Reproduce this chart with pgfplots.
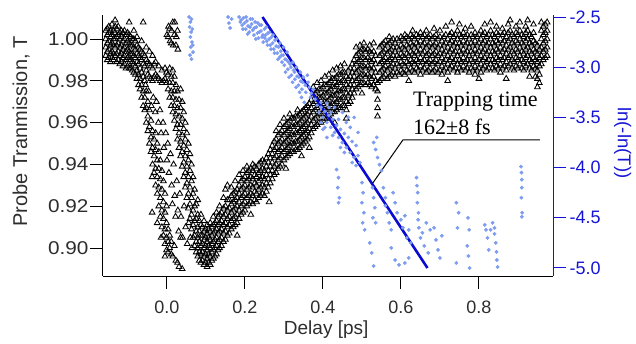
\documentclass[border=0pt]{standalone}
\usepackage{pgfplots}
\usepackage{pgfplotstable}
\pgfplotsset{compat=1.18}
\usepackage{fontspec}
\setmainfont{Liberation Sans}
\newfontfamily\annfont{Liberation Serif}
\newfontfamily\widesans[FakeStretch=1.12]{Liberation Sans}
\definecolor{axblue}{RGB}{20,20,215}
\definecolor{dotblue}{RGB}{125,155,240}
\definecolor{fitblue}{RGB}{10,10,210}
\definecolor{tickgray}{RGB}{45,45,45}

\pgfplotstableread{
x a b c d e f
-0.157 0.992 0.996 1.000 1.004 nan nan
-0.153 0.990 0.994 0.998 1.002 1.005 nan
-0.149 0.991 0.995 0.999 1.003 1.006 nan
-0.145 0.989 0.993 0.997 1.001 1.004 nan
-0.141 0.991 0.994 0.998 1.002 1.007 nan
-0.137 0.990 0.993 0.997 1.000 1.004 nan
-0.133 0.992 0.996 1.000 1.003 1.006 1.009
-0.129 0.989 0.993 0.997 1.001 1.005 nan
-0.125 0.990 0.994 0.998 1.002 1.006 nan
-0.121 0.988 0.992 0.996 1.000 1.003 nan
-0.117 0.989 0.993 0.997 1.001 1.004 nan
-0.113 0.987 0.991 0.995 0.999 1.003 nan
-0.109 0.988 0.992 0.996 1.000 1.004 nan
-0.105 0.986 0.990 0.994 0.998 1.002 nan
-0.101 0.987 0.991 0.995 0.999 1.003 nan
-0.097 0.986 0.990 0.994 0.998 1.002 1.008
-0.093 0.986 0.990 0.993 0.997 1.001 nan
-0.089 0.985 0.989 0.993 0.997 1.000 nan
-0.085 0.984 0.988 0.992 0.996 1.000 1.004
-0.081 0.983 0.987 0.991 0.995 0.999 nan
-0.077 0.981 0.985 0.989 0.993 0.997 1.001
-0.073 0.978 0.983 0.988 0.992 0.996 nan
-0.069 0.976 0.981 0.986 0.991 0.995 nan
-0.065 0.972 0.978 0.984 0.990 0.994 0.999
-0.061 0.968 0.975 0.982 0.988 0.993 1.008
-0.057 0.966 0.972 0.980 0.987 0.992 nan
-0.053 0.960 0.967 0.975 0.985 0.990 0.996
-0.049 0.956 0.963 0.970 0.983 0.989 nan
-0.045 0.950 0.958 0.966 0.982 0.988 0.994
-0.041 0.946 0.953 0.961 0.981 0.987 nan
-0.037 0.940 0.948 0.956 0.980 0.986 0.992
-0.033 0.936 0.944 0.952 0.982 0.988 nan
-0.029 0.930 0.938 0.947 0.955 0.983 0.989
-0.025 0.926 0.934 0.942 0.950 0.982 nan
-0.021 0.920 0.929 0.938 0.946 0.981 0.987
-0.017 0.915 0.924 0.933 0.942 0.980 nan
-0.013 0.910 0.918 0.928 0.937 0.979 0.985
-0.009 0.906 0.914 0.922 0.932 0.980 nan
-0.005 0.902 0.909 0.917 0.926 0.981 0.986
-0.001 0.899 0.905 0.912 0.920 0.979 0.984
0.003 0.898 0.903 0.909 0.976 0.983 1.001
0.007 0.900 0.906 0.972 0.979 0.986 1.005
0.011 0.897 0.903 0.968 0.975 0.982 0.998
0.015 0.896 0.965 0.972 0.979 0.985 1.008
0.019 0.901 0.961 0.968 0.975 0.982 1.002
0.023 0.894 0.957 0.964 0.971 0.978 0.997
0.027 0.893 0.952 0.959 0.967 0.975 1.004
0.031 0.891 0.948 0.955 0.963 0.971 nan
0.035 0.905 0.944 0.951 0.959 0.967 0.976
0.039 0.890 0.939 0.946 0.954 0.962 0.970
0.043 0.934 0.941 0.949 0.957 0.965 nan
0.047 0.929 0.936 0.944 0.952 0.960 nan
0.051 0.924 0.931 0.939 0.947 0.955 nan
0.055 0.919 0.926 0.934 0.942 0.950 nan
0.059 0.914 0.921 0.929 0.937 0.945 nan
0.063 0.909 0.916 0.924 0.932 0.940 nan
0.067 0.905 0.911 0.918 0.926 0.934 nan
0.071 0.901 0.906 0.913 0.920 0.928 nan
0.075 0.898 0.903 0.908 0.914 0.921 nan
0.079 0.896 0.900 0.905 0.910 0.916 0.923
0.083 0.894 0.898 0.903 0.908 0.913 nan
0.087 0.893 0.897 0.901 0.906 0.911 0.916
0.091 0.894 0.898 0.902 0.906 0.910 nan
0.095 0.892 0.896 0.900 0.904 0.908 0.913
0.099 0.893 0.897 0.901 0.905 0.909 nan
0.103 0.891 0.895 0.899 0.903 0.907 0.911
0.107 0.893 0.897 0.901 0.905 0.909 nan
0.111 0.892 0.896 0.900 0.904 0.908 0.912
0.115 0.894 0.898 0.902 0.906 0.910 nan
0.119 0.895 0.899 0.903 0.907 0.911 0.915
0.123 0.896 0.900 0.904 0.908 0.912 nan
0.127 0.897 0.901 0.905 0.909 0.913 0.917
0.131 0.899 0.903 0.907 0.911 0.915 nan
0.135 0.900 0.904 0.908 0.912 0.916 0.920
0.140 0.901 0.905 0.909 0.913 0.917 nan
0.145 0.903 0.907 0.911 0.915 0.919 0.924
0.150 0.904 0.908 0.912 0.916 0.920 0.928
0.155 0.906 0.910 0.914 0.918 0.923 0.930
0.160 0.907 0.911 0.915 0.919 0.923 nan
0.165 0.909 0.913 0.917 0.921 0.925 0.929
0.170 0.910 0.914 0.918 0.922 0.926 nan
0.175 0.911 0.915 0.919 0.923 0.927 0.932
0.180 0.912 0.916 0.920 0.924 0.928 nan
0.185 0.914 0.918 0.922 0.926 0.930 0.935
0.190 0.916 0.920 0.924 0.928 0.932 nan
0.195 0.917 0.921 0.925 0.929 0.933 0.937
0.200 0.918 0.922 0.926 0.930 0.934 nan
0.205 0.920 0.924 0.928 0.932 0.936 0.939
0.210 0.921 0.925 0.929 0.933 0.937 nan
0.215 0.922 0.926 0.930 0.934 0.938 nan
0.220 0.921 0.925 0.929 0.933 0.937 0.940
0.225 0.923 0.927 0.931 0.935 0.939 nan
0.230 0.922 0.926 0.930 0.934 0.938 nan
0.235 0.924 0.928 0.932 0.936 0.940 nan
0.240 0.925 0.929 0.933 0.937 0.941 nan
0.245 0.926 0.930 0.934 0.938 0.942 nan
0.250 0.925 0.929 0.933 0.937 0.941 nan
0.255 0.927 0.931 0.935 0.939 0.943 nan
0.260 0.929 0.933 0.937 0.941 0.945 nan
0.265 0.931 0.935 0.939 0.943 0.947 nan
0.270 0.933 0.937 0.941 0.945 0.949 nan
0.275 0.935 0.939 0.943 0.947 0.951 nan
0.280 0.936 0.940 0.944 0.948 0.952 0.956
0.285 0.938 0.942 0.946 0.950 0.954 nan
0.290 0.939 0.943 0.947 0.951 0.955 0.959
0.295 0.940 0.944 0.948 0.952 0.956 nan
0.300 0.942 0.946 0.950 0.954 0.958 0.962
0.305 0.943 0.947 0.951 0.955 0.959 nan
0.310 0.944 0.948 0.952 0.956 0.960 nan
0.315 0.945 0.949 0.953 0.957 0.961 0.964
0.320 0.946 0.950 0.954 0.958 0.962 nan
0.325 0.946 0.950 0.954 0.958 0.962 nan
0.330 0.947 0.951 0.955 0.959 0.963 nan
0.335 0.947 0.951 0.955 0.959 0.963 0.966
0.340 0.948 0.952 0.956 0.960 0.964 nan
0.345 0.949 0.953 0.957 0.961 0.965 nan
0.350 0.950 0.954 0.958 0.962 0.966 nan
0.355 0.951 0.955 0.959 0.963 0.967 nan
0.360 0.952 0.956 0.960 0.964 0.968 nan
0.365 0.953 0.957 0.961 0.965 0.969 nan
0.370 0.955 0.959 0.963 0.967 0.971 nan
0.375 0.957 0.961 0.965 0.969 0.973 0.977
0.380 0.958 0.962 0.966 0.970 0.974 nan
0.385 0.959 0.963 0.967 0.971 0.975 0.979
0.390 0.960 0.964 0.968 0.972 0.976 nan
0.395 0.960 0.964 0.968 0.972 0.976 0.980
0.400 0.961 0.965 0.969 0.973 0.977 nan
0.405 0.962 0.966 0.970 0.974 0.978 0.982
0.410 0.962 0.966 0.970 0.974 0.978 nan
0.415 0.963 0.967 0.971 0.975 0.979 0.983
0.420 0.964 0.968 0.972 0.976 0.980 nan
0.425 0.965 0.969 0.973 0.977 0.981 0.985
0.430 0.965 0.969 0.973 0.977 0.981 nan
0.435 0.966 0.970 0.974 0.978 0.982 0.986
0.440 0.967 0.971 0.975 0.979 0.983 nan
0.445 0.967 0.971 0.975 0.979 0.983 0.987
0.450 0.968 0.972 0.976 0.980 0.984 nan
0.455 0.968 0.972 0.976 0.980 0.984 0.988
0.460 0.966 0.970 0.974 0.978 0.982 nan
0.465 0.969 0.973 0.977 0.981 0.985 nan
0.470 0.970 0.974 0.978 0.982 0.986 nan
0.475 0.972 0.976 0.980 0.984 0.988 nan
0.480 0.974 0.978 0.982 0.986 0.990 nan
0.485 0.976 0.980 0.984 0.988 0.992 0.996
0.490 0.977 0.981 0.985 0.989 0.993 nan
0.495 0.978 0.982 0.986 0.990 0.994 0.997
0.500 0.979 0.983 0.987 0.991 0.995 nan
0.505 0.979 0.983 0.987 0.991 0.995 0.998
0.510 0.978 0.982 0.986 0.990 0.994 nan
0.515 0.979 0.983 0.987 0.991 0.995 nan
0.520 0.978 0.982 0.986 0.990 0.994 0.997
0.525 0.977 0.981 0.985 0.989 0.993 nan
0.530 0.978 0.982 0.986 0.990 0.994 0.998
0.535 0.976 0.980 0.984 0.988 0.992 nan
0.540 0.963 0.967 0.971 0.975 0.979 nan
0.545 0.980 0.984 0.988 0.992 0.996 nan
0.550 0.981 0.985 0.989 0.993 0.997 nan
0.555 0.982 0.986 0.990 0.994 0.998 nan
0.560 0.983 0.987 0.991 0.995 0.999 nan
0.565 0.981 0.985 0.989 0.993 0.997 nan
0.570 0.982 0.986 0.990 0.994 0.998 1.001
0.575 0.983 0.987 0.991 0.995 0.999 nan
0.580 0.984 0.988 0.992 0.996 1.000 nan
0.585 0.982 0.986 0.990 0.994 0.998 nan
0.590 0.984 0.988 0.992 0.996 1.000 nan
0.595 0.983 0.987 0.991 0.995 0.999 nan
0.600 0.985 0.989 0.993 0.997 1.001 nan
0.605 0.984 0.988 0.992 0.996 1.000 nan
0.610 0.983 0.987 0.991 0.995 0.999 1.002
0.615 0.985 0.989 0.993 0.997 1.001 nan
0.620 0.984 0.988 0.992 0.996 1.000 nan
0.625 0.986 0.990 0.994 0.998 1.002 nan
0.630 0.985 0.989 0.993 0.997 1.001 1.004
0.635 0.984 0.988 0.992 0.996 1.000 nan
0.640 0.986 0.990 0.994 0.998 1.002 nan
0.645 0.985 0.989 0.993 0.997 1.001 nan
0.650 0.983 0.987 0.991 0.995 0.999 1.003
0.655 0.985 0.989 0.993 0.997 1.001 nan
0.660 0.986 0.990 0.994 0.998 1.002 nan
0.665 0.984 0.988 0.992 0.996 1.000 1.004
0.670 0.985 0.989 0.993 0.997 1.001 nan
0.675 0.986 0.990 0.994 0.998 1.002 nan
0.680 0.984 0.988 0.992 0.996 1.000 nan
0.685 0.985 0.989 0.993 0.997 1.001 1.005
0.690 0.986 0.990 0.994 0.998 1.002 nan
0.695 0.984 0.988 0.992 0.996 1.000 nan
0.700 0.985 0.989 0.993 0.997 1.001 1.004
0.705 0.983 0.987 0.991 0.995 0.999 nan
0.710 0.985 0.989 0.993 0.997 1.001 nan
0.715 0.986 0.990 0.994 0.998 1.002 1.006
0.720 0.984 0.988 0.992 0.996 1.000 nan
0.725 0.986 0.990 0.994 0.998 1.002 nan
0.730 0.987 0.991 0.995 0.999 1.003 1.008
0.735 0.985 0.989 0.993 0.997 1.001 nan
0.740 0.986 0.990 0.994 0.998 1.002 nan
0.745 0.984 0.988 0.992 0.996 1.000 1.004
0.750 0.986 0.990 0.994 0.998 1.002 1.007
0.755 0.985 0.989 0.993 0.997 1.001 nan
0.760 0.987 0.991 0.995 0.999 1.003 nan
0.765 0.985 0.989 0.993 0.997 1.001 1.005
0.770 0.986 0.990 0.994 0.998 1.002 nan
0.775 0.984 0.988 0.992 0.996 1.000 nan
0.780 0.986 0.990 0.994 0.998 1.002 1.006
0.785 0.985 0.989 0.993 0.997 1.001 nan
0.790 0.983 0.987 0.991 0.995 0.999 1.003
0.795 0.985 0.989 0.993 0.997 1.001 nan
0.800 0.986 0.990 0.994 0.998 1.002 nan
0.805 0.984 0.988 0.992 0.996 1.000 1.004
0.810 0.986 0.990 0.994 0.998 1.002 nan
0.815 0.987 0.991 0.995 0.999 1.003 1.007
0.820 0.985 0.989 0.993 0.997 1.001 nan
0.825 0.986 0.990 0.994 0.998 1.002 nan
0.830 0.988 0.992 0.996 1.000 1.004 1.008
0.835 0.986 0.990 0.994 0.998 1.002 nan
0.840 0.985 0.989 0.993 0.997 1.001 nan
0.845 0.987 0.991 0.995 0.999 1.003 1.006
0.850 0.986 0.990 0.994 0.998 1.002 nan
0.855 0.984 0.988 0.992 0.996 1.000 nan
0.860 0.986 0.990 0.994 0.998 1.002 1.005
0.865 0.987 0.991 0.995 0.999 1.003 nan
0.870 0.985 0.989 0.993 0.997 1.001 nan
0.875 0.987 0.991 0.995 0.999 1.003 1.007
0.880 0.988 0.992 0.996 1.000 1.004 1.009
0.885 0.986 0.990 0.994 0.998 1.002 nan
0.890 0.985 0.989 0.993 0.997 1.001 nan
0.895 0.987 0.991 0.995 0.999 1.003 1.006
0.900 0.986 0.990 0.994 0.998 1.002 nan
0.905 0.988 0.992 0.996 1.000 1.004 1.008
0.910 0.986 0.990 0.994 0.998 1.002 nan
0.915 0.985 0.989 0.993 0.997 1.001 nan
0.920 0.987 0.991 0.995 0.999 1.003 1.006
0.925 0.988 0.992 0.996 1.000 1.004 1.009
0.930 0.986 0.990 0.994 0.998 1.002 nan
0.935 0.985 0.989 0.993 0.997 1.001 nan
0.940 0.987 0.991 0.995 0.999 1.003 1.007
0.945 0.982 0.986 0.990 0.994 0.998 nan
0.950 0.977 0.981 0.985 0.989 0.993 0.997
0.955 0.979 0.983 0.987 0.991 0.995 nan
0.960 0.988 0.992 0.996 1.000 1.004 1.008
0.965 0.990 0.994 0.998 1.002 1.006 nan
0.970 0.991 0.995 0.999 1.003 1.007 nan
0.975 0.992 0.996 1.000 1.004 1.008 nan
}\blk

\begin{document}
\begin{tikzpicture}
\path[use as bounding box] (-103pt,-67pt) rectangle (533pt,276pt);
\begin{axis}[
  at={(0,0)}, anchor=south west,
  scale only axis, width=450pt, height=261pt,
  xmin=-0.164, xmax=0.99, ymin=0.8866, ymax=1.0115,
  axis x line*=bottom, axis y line*=left,
  axis line style={line width=1pt, black, -},
  tick align=outside, major tick length=13pt,
  tick style={line width=1pt, black},
  xtick={0,0.2,0.4,0.6,0.8}, xticklabels={0.0,0.2,0.4,0.6,0.8},
  ytick={0.90,0.92,0.94,0.96,0.98,1.00},
  yticklabels={0.90,0.92,0.94,0.96,0.98,1.00},
  xticklabel style={font=\fontsize{18}{20}\selectfont, text=tickgray, yshift=-8pt},
  yticklabel style={font=\widesans\fontsize{18.5}{20}\selectfont, text=tickgray, xshift=2pt},
  /pgf/number format/assume math mode=true,
  xlabel={Delay [ps]}, ylabel={Probe Tranmission, T},
  every axis x label/.style={at={(axis description cs:0.496,0)}, yshift=-53.5pt, anchor=center, font=\fontsize{19}{22}\selectfont, text=tickgray},
  every axis y label/.style={at={(axis description cs:-0.182,0.553)}, rotate=90, anchor=center, font=\fontsize{20}{22}\selectfont, text=tickgray},
  clip=false,
]
\pgfplotsinvokeforeach{a,b,c,d,e,f}{
  \addplot[only marks, mark=triangle, mark size=3.3pt, black, mark options={line width=0.85pt}] table[x=x, y=#1] {\blk};
}
\addplot[only marks, mark=triangle, mark size=3.3pt, black, mark options={line width=0.85pt}] coordinates {
(-0.055,0.978) (-0.047,0.975) (-0.040,0.968) (-0.035,0.972) (-0.030,0.965) (-0.027,0.970)
(-0.022,0.960) (-0.018,0.966) (-0.015,0.955) (-0.010,0.960) (-0.008,0.948) (-0.003,0.955)
(0.000,0.942) (0.002,0.950) (0.005,0.936) (0.009,0.945) (0.012,0.930) (0.014,0.921)
(0.017,0.940) (0.020,0.925) (0.022,0.915) (0.025,0.932) (0.028,0.918) (0.030,0.908)
(0.033,0.926) (0.036,0.915) (0.040,0.905) (0.044,0.920) (0.048,0.910) (0.052,0.902)
(0.056,0.912) (0.060,0.905) (0.064,0.900) (-0.038,0.934) (-0.038,0.917) (-0.025,0.912)
(-0.015,0.905) (-0.005,0.896)
(0.000,1.002) (0.004,1.006) (0.008,0.999) (0.012,1.004) (0.016,0.997) (0.020,1.008)
(0.024,1.001) (0.028,0.995)
(0.180,0.906) (0.215,0.916) (0.262,0.922) (0.305,0.938) (0.345,0.944) (0.365,0.948)
(0.430,0.960) (0.460,0.962) (0.500,0.974) (0.620,0.980) (0.720,0.980) (0.800,0.981)
(0.870,0.981) (0.930,0.982)
};
\end{axis}
\begin{axis}[
  at={(0,0)}, anchor=south west,
  scale only axis, width=450pt, height=261pt,
  xmin=-0.164, xmax=0.99, ymin=-5.08, ymax=-2.48,
  axis x line=none, axis y line*=right,
  axis line style={line width=1pt, axblue, -},
  tick align=outside, major tick length=13pt,
  tick style={line width=1pt, axblue},
  ytick={-5,-4.5,-4,-3.5,-3,-2.5},
  yticklabels={-5.0,-4.5,-4.0,-3.5,-3.0,-2.5},
  ticklabel style={font=\fontsize{18}{20}\selectfont, text=axblue},
  /pgf/number format/assume math mode=true,
  ylabel={ln(-ln(T))},
  every axis y label/.style={at={(axis description cs:1.155,0.51)}, rotate=-90, anchor=center, font=\fontsize{18.5}{21}\selectfont, text=axblue},
  clip=false,
]
\addplot[only marks, mark=*, mark size=1.7pt, dotblue, mark options={draw=dotblue, fill=dotblue}] coordinates {
(0.057,-2.50) (0.060,-2.55) (0.063,-2.52) (0.058,-2.60) (0.062,-2.65) (0.065,-2.62)
(0.060,-2.70) (0.064,-2.75) (0.061,-2.80) (0.066,-2.78) (0.059,-2.88) (0.063,-2.92) (0.067,-2.85)
(0.157,-2.50) (0.159,-2.56) (0.162,-2.61) (0.166,-2.52)
(0.185,-2.50) (0.190,-2.53) (0.193,-2.58) (0.196,-2.51) (0.199,-2.56) (0.202,-2.62)
(0.205,-2.54) (0.208,-2.59) (0.211,-2.65) (0.214,-2.52) (0.217,-2.57) (0.220,-2.63)
(0.223,-2.68) (0.226,-2.55) (0.229,-2.60) (0.232,-2.66) (0.235,-2.71) (0.238,-2.58)
(0.241,-2.64) (0.244,-2.70) (0.247,-2.75) (0.250,-2.62) (0.253,-2.68) (0.256,-2.74)
(0.259,-2.66) (0.262,-2.72) (0.265,-2.78) (0.268,-2.70) (0.271,-2.76) (0.274,-2.82)
(0.277,-2.73) (0.280,-2.79) (0.283,-2.86) (0.286,-2.80) (0.289,-2.90) (0.292,-2.84)
(0.295,-2.95) (0.298,-2.88) (0.301,-2.98) (0.304,-3.05) (0.307,-2.93) (0.310,-3.02)
(0.313,-3.10) (0.316,-2.97) (0.319,-3.08) (0.322,-3.15) (0.325,-3.03) (0.328,-3.12)
(0.331,-3.20) (0.334,-3.09) (0.337,-3.18) (0.340,-3.25) (0.343,-3.14) (0.346,-3.22)
(0.350,-3.10) (0.355,-3.18) (0.360,-3.08) (0.365,-3.20) (0.370,-3.26) (0.345,-3.30) (0.352,-3.35)
(0.188,-2.55) (0.195,-2.62) (0.203,-2.50) (0.207,-2.67) (0.213,-2.60) (0.219,-2.52)
(0.224,-2.61) (0.228,-2.72) (0.233,-2.56) (0.237,-2.65) (0.242,-2.58) (0.246,-2.68)
(0.251,-2.71) (0.255,-2.60) (0.258,-2.78) (0.263,-2.65) (0.267,-2.82) (0.272,-2.68)
(0.276,-2.86) (0.281,-2.72) (0.285,-2.92) (0.290,-2.76) (0.294,-2.88) (0.299,-2.80)
(0.303,-2.92) (0.308,-2.85) (0.312,-2.95) (0.318,-3.00) (0.323,-2.95) (0.327,-3.05)
(0.332,-3.00) (0.338,-3.10) (0.342,-3.05) (0.348,-3.15) (0.356,-3.25) (0.362,-3.15)
(0.368,-3.30) (0.375,-3.22) (0.380,-3.32)
(0.385,-3.38) (0.390,-3.45) (0.395,-3.40) (0.400,-3.50) (0.405,-3.44) (0.410,-3.55)
(0.415,-3.48) (0.420,-3.60) (0.425,-3.52) (0.430,-3.65) (0.435,-3.58) (0.440,-3.70)
(0.445,-3.62) (0.450,-3.75) (0.455,-3.66) (0.460,-3.80) (0.465,-3.70) (0.470,-3.85)
(0.475,-3.74) (0.480,-3.90) (0.485,-3.78) (0.490,-3.88) (0.400,-3.62) (0.410,-3.70)
(0.420,-3.45) (0.430,-3.40) (0.440,-3.52) (0.450,-3.45) (0.460,-3.55) (0.470,-3.60)
(0.480,-3.50) (0.490,-3.65) (0.495,-3.95) (0.435,-4.02) (0.440,-4.10) (0.438,-4.20)
(0.442,-4.30) (0.440,-4.35) (0.500,-4.15) (0.503,-4.25) (0.500,-4.35) (0.505,-4.45)
(0.502,-4.55) (0.507,-4.62)
(0.395,-3.55) (0.405,-3.60) (0.415,-3.40) (0.425,-3.68) (0.445,-3.80) (0.455,-3.85)
(0.465,-3.50) (0.475,-3.95) (0.485,-3.98) (0.395,-3.35) (0.410,-3.36)
(0.530,-3.75) (0.535,-3.82) (0.540,-3.90) (0.545,-3.97) (0.550,-4.03) (0.538,-3.70)
(0.527,-4.20) (0.530,-4.30) (0.533,-4.40) (0.528,-4.50) (0.535,-4.55) (0.520,-4.75)
(0.525,-4.85) (0.530,-4.98) (0.555,-4.20) (0.560,-4.30) (0.565,-4.45) (0.570,-4.55)
(0.575,-4.62) (0.560,-4.38) (0.575,-4.80) (0.585,-4.92) (0.595,-4.97) (0.610,-4.95)
(0.620,-4.90) (0.590,-4.45) (0.600,-4.52) (0.605,-4.60) (0.610,-4.48) (0.615,-4.70)
(0.620,-4.62) (0.625,-4.75) (0.640,-4.10) (0.641,-4.18) (0.643,-4.25) (0.642,-4.35)
(0.645,-4.45) (0.644,-4.52) (0.646,-4.60) (0.650,-4.70) (0.655,-4.65) (0.660,-4.78)
(0.665,-4.55) (0.670,-4.85) (0.675,-4.62) (0.685,-4.60) (0.690,-4.72) (0.695,-4.82)
(0.700,-4.90) (0.705,-4.68) (0.580,-4.25) (0.585,-4.35)
(0.742,-4.35) (0.748,-4.45) (0.745,-4.60) (0.742,-4.95) (0.772,-4.50) (0.775,-4.62)
(0.770,-4.78) (0.773,-4.88) (0.776,-5.00) (0.815,-4.57) (0.818,-4.62) (0.822,-4.70)
(0.825,-4.82) (0.830,-4.62) (0.835,-4.55) (0.840,-4.66) (0.843,-4.75) (0.845,-4.84)
(0.846,-4.92) (0.848,-4.99) (0.840,-4.60) (0.908,-3.99) (0.909,-4.05) (0.910,-4.12)
(0.910,-4.20) (0.909,-4.30) (0.911,-4.45) (0.910,-4.49)
};
\addplot[fitblue, line width=2.6pt] coordinates {(0.245,-2.5) (0.668,-5.0)};
\draw[line width=1pt, black] (axis cs:0.528,-4.153) -- (axis cs:0.605,-3.725) -- (axis cs:0.956,-3.725);
\node[anchor=base west, inner sep=0pt, font=\annfont\fontsize{22}{24}\selectfont] at (axis cs:0.631,-3.396) {Trapping time};
\node[anchor=base west, inner sep=0pt, font=\annfont\fontsize{22}{24}\selectfont] at (axis cs:0.631,-3.675) {162±8 fs};
\end{axis}
\end{tikzpicture}
\end{document}
